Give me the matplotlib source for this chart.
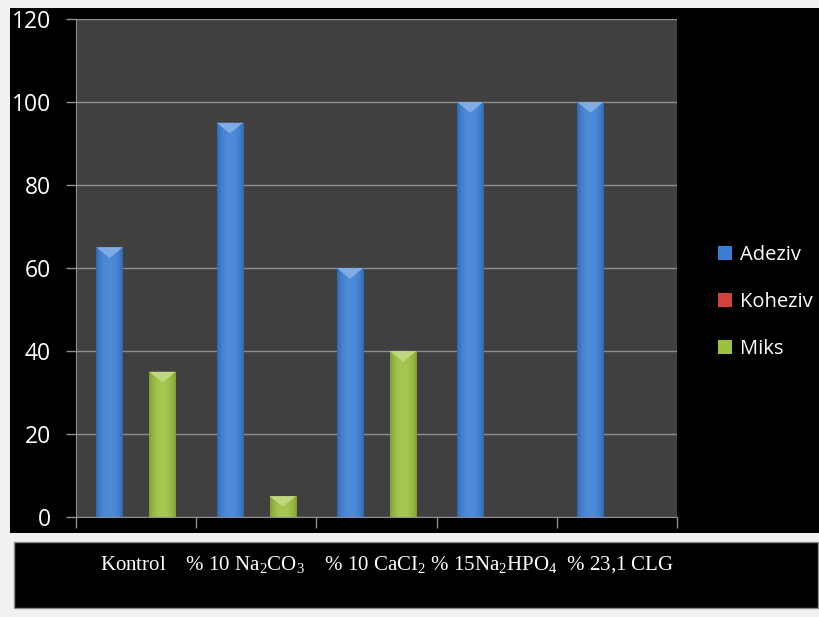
import numpy as np
import matplotlib
matplotlib.use("Agg")
import matplotlib.pyplot as plt
from matplotlib.patches import Rectangle, Polygon, Patch
from matplotlib.colors import to_rgb

# Kırılma tipi dağılımı (%)
groups = ["Kontrol", "% 10 Na$_2$CO$_3$", "% 10 CaCI$_2$", "% 15Na$_2$HPO$_4$", "% 23,1 CLG"]
series = ["Adeziv", "Koheziv", "Miks"]
adeziv = [65, 95, 60, 100, 100]
koheziv = [0, 0, 0, 0, 0]
miks = [35, 5, 40, 0, 0]
yticks = [0, 20, 40, 60, 80, 100, 120]

colors = {"Adeziv": "#3a7fd6", "Koheziv": "#d2423c", "Miks": "#9cc13c"}

plt.rcParams["mathtext.fontset"] = "custom"
plt.rcParams["mathtext.rm"] = "Liberation Serif"
plt.rcParams["mathtext.default"] = "regular"

fig = plt.figure(figsize=(8.2, 6.17), dpi=100, facecolor="#f1f1f1")

# black chart panel and the label box under it
fig.patches.append(Rectangle((10 / 820, 1 - 533 / 617), 1, 525 / 617,
                             transform=fig.transFigure, facecolor="black",
                             edgecolor="none", zorder=-2))
fig.patches.append(Rectangle((14 / 820, 1 - 608 / 617), 804 / 820, 66 / 617,
                             transform=fig.transFigure, facecolor="black",
                             edgecolor="#8a8a8a", linewidth=1, zorder=-2))

ax = fig.add_axes([76 / 820, 1 - 517 / 617, 601 / 820, 498 / 617])
ax.set_facecolor("#404040")

x = np.arange(len(groups))
w = 0.22


def shaded(c, k):
    r, g, b = to_rgb(c)
    return (r + (1 - r) * k, g + (1 - g) * k, b + (1 - b) * k)


def darker(c, k):
    r, g, b = to_rgb(c)
    return (r * (1 - k), g * (1 - k), b * (1 - k))


for i, (name, vals) in enumerate(zip(series, [adeziv, koheziv, miks])):
    bars = ax.bar(x + (i - 1) * w, vals, w, color=colors[name], zorder=2)
    for bar in bars:
        h = bar.get_height()
        if h <= 0:
            continue
        x0, bw = bar.get_x(), bar.get_width()
        # horizontal gradient: dark edges, lighter middle
        t = np.linspace(0, 1, 64)
        prof = np.sin(np.pi * t) ** 0.6
        base = np.array(darker(colors[name], 0.2))
        light = np.array(shaded(colors[name], 0.1))
        img = base[None, :] + (light - base)[None, :] * prof[:, None]
        im = ax.imshow(img[None, :, :], extent=[x0, x0 + bw, 0, h],
                       aspect="auto", zorder=3, interpolation="bilinear")
        im.set_clip_path(bar)
        # bevelled top
        d = min(2.6, h * 0.5)
        ax.add_patch(Polygon([[x0, h], [x0 + bw, h], [x0 + bw * 0.5, h - d]],
                             closed=True, facecolor=shaded(colors[name], 0.35),
                             edgecolor="none", zorder=4))

ax.set_xlim(-0.5, len(groups) - 0.5)
ax.set_ylim(0, 120)
ax.set_yticks(yticks)
ax.yaxis.grid(True, color="#8f8f8f", linewidth=1)
ax.set_axisbelow(True)

ax.set_xticks([])
ax.set_xticks(np.arange(len(groups) + 1) - 0.5, minor=True)
ax.tick_params(axis="x", which="minor", length=8, color="#8f8f8f", width=1)
ax.tick_params(axis="y", length=7, color="#8f8f8f", width=1, pad=11,
               labelcolor="white", labelsize=16.5)
for lbl in ax.get_yticklabels():
    lbl.set_fontfamily("Open Sans")

for s in ["top", "right"]:
    ax.spines[s].set_visible(False)
for s in ["left", "bottom"]:
    ax.spines[s].set_color("#8f8f8f")

# group names written as one line in the box below the chart
label_line = "    ".join(groups[:2]) + "    " + " ".join(groups[2:4]) + "  " + groups[4]
fig.text(100 / 820, 1 - 570 / 617, label_line, ha="left", va="baseline",
         color="white", fontsize=15, fontfamily="Liberation Serif")

handles = [Patch(facecolor=colors[s], edgecolor="none", label=s) for s in series]
fig.legend(handles=handles, loc="center left", bbox_to_anchor=(700 / 820, 1 - 302 / 617),
           frameon=False, handlelength=0.7, handleheight=0.7, handletextpad=0.4,
           labelspacing=1.35, labelcolor="white",
           prop={"family": "Open Sans", "size": 14.5})

fig.savefig("out.png", dpi=100, facecolor=fig.get_facecolor())
